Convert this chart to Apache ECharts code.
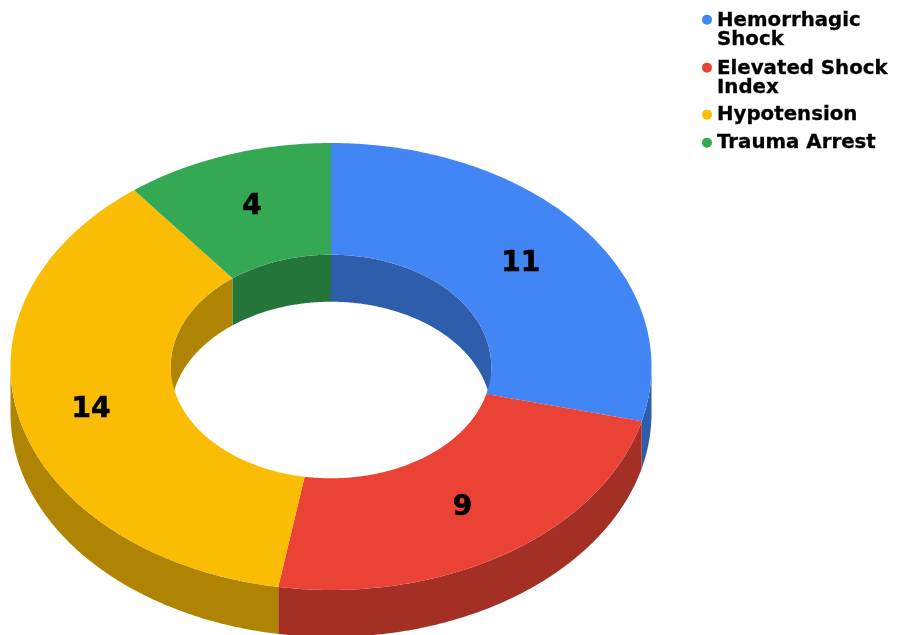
<!DOCTYPE html>
<html>
<head>
<meta charset="utf-8">
<style>html,body{margin:0;padding:0;background:#fff}#chart{width:906px;height:635px}</style>
<script src="https://cdn.jsdelivr.net/npm/echarts@6/dist/echarts.min.js"></script>
</head>
<body>
<div id="chart"></div>
<script>
// Shock categories and patient counts
var categories = ['Hemorrhagic\nShock', 'Elevated Shock\nIndex', 'Hypotension', 'Trauma Arrest'];
var counts = [11, 9, 14, 4];
var topColors = ['#4285F4', '#EA4335', '#FBBC04', '#34A853'];
var wallColors = ['#2E5DAB', '#A42F25', '#B08403', '#24753A'];

// Tilted ring geometry
var ring = { cx: 331, cy: 366.5, rx: 320.5, ry: 223.5, hole: 0.5, depth: 47 };
var legendTops = [10.5, 58.5, 104.5, 132.5];
var labelNudge = [[0, 0], [0, 1], [-7, 2], [-1, -1]];

var total = counts.reduce(function (a, b) { return a + b; }, 0);

function spanOf(index) {
  var before = 0;
  for (var i = 0; i < index; i++) before += counts[i];
  return [before / total * 360, (before + counts[index]) / total * 360];
}

function onEllipse(deg, scale, drop) {
  var t = deg * Math.PI / 180;
  return [
    ring.cx + ring.rx * scale * Math.sin(t),
    ring.cy - ring.ry * scale * Math.cos(t) + drop
  ];
}

function arc(from, to, scale, drop) {
  var pts = [];
  var steps = Math.max(2, Math.ceil(Math.abs(to - from) * 2));
  for (var i = 0; i <= steps; i++) {
    pts.push(onEllipse(from + (to - from) * i / steps, scale, drop));
  }
  return pts;
}

function face(points, color, z2) {
  return { type: 'polygon', shape: { points: points }, style: { fill: color }, z2: z2, silent: true };
}

function wall(from, to, scale, color) {
  return face(arc(from, to, scale, 0).concat(arc(to, from, scale, ring.depth)), color, 1);
}

function clampRange(a, b, lo, hi) {
  var s = Math.max(a, lo), e = Math.min(b, hi);
  return e > s ? [s, e] : null;
}

function renderSlice(index) {
  return function (params, api) {
    var span = spanOf(index);
    var a = span[0], b = span[1];
    var children = [];
    // outer wall faces the viewer on the lower half, inner wall on the upper half
    var front = clampRange(a, b, 90, 270);
    if (front) children.push(wall(front[0], front[1], 1, wallColors[index]));
    [[0, 90], [270, 360]].forEach(function (r) {
      var back = clampRange(a, b, r[0], r[1]);
      if (back) children.push(wall(back[0], back[1], ring.hole, wallColors[index]));
    });
    // top surface
    children.push(face(arc(a, b, 1, 0).concat(arc(b, a, ring.hole, 0)), api.visual('color'), 2));
    // count label at the middle of the band
    var mid = onEllipse((a + b) / 2, (1 + ring.hole) / 2, 0);
    children.push({
      type: 'text',
      z2: 3,
      silent: true,
      style: {
        x: mid[0] + labelNudge[index][0],
        y: mid[1] + labelNudge[index][1],
        text: String(api.value(0)),
        align: 'center',
        verticalAlign: 'middle',
        fill: '#000',
        stroke: '#000',
        lineWidth: 0.6,
        fontFamily: '"DejaVu Sans", Verdana, sans-serif',
        fontWeight: 'bold',
        fontSize: 28
      }
    });
    return { type: 'group', children: children };
  };
}

// Legend entries: two-line names keep the dot beside the first line
var twoLineDot = 'path://M0 8.5a5 5 0 1 0 10 0a5 5 0 1 0 -10 0zM5 0L5 0M5 38L5 38';
var legends = categories.map(function (name, i) {
  var twoLines = name.indexOf('\n') >= 0;
  return {
    left: 702,
    top: legendTops[i],
    padding: 0,
    orient: 'vertical',
    selectedMode: false,
    itemWidth: 10,
    itemHeight: twoLines ? 38 : 10,
    icon: twoLines ? twoLineDot : 'circle',
    data: [name],
    textStyle: {
      color: '#000',
      fontFamily: '"DejaVu Sans", Verdana, sans-serif',
      fontWeight: 'bold',
      fontSize: 19.8,
      lineHeight: 19,
      textBorderColor: '#000',
      textBorderWidth: 0.3
    }
  };
});

var chart = echarts.init(document.getElementById('chart'), null, { renderer: 'canvas' });
chart.setOption({
  animation: false,
  backgroundColor: '#fff',
  color: topColors,
  legend: legends,
  tooltip: { show: false },
  series: categories.map(function (name, i) {
    return {
      type: 'custom',
      name: name,
      coordinateSystem: 'none',
      data: [[counts[i]]],
      itemStyle: { color: topColors[i] },
      renderItem: renderSlice(i)
    };
  })
});
</script>
</body>
</html>
